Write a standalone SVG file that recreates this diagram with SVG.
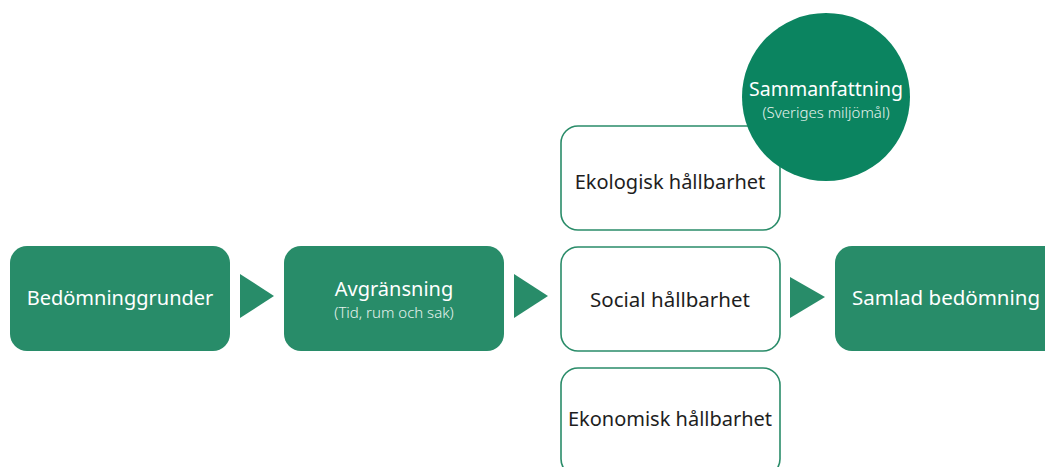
<svg xmlns="http://www.w3.org/2000/svg" width="1045" height="467" viewBox="0 0 1045 467">
<style>
.fill{fill:#288c69;}
.outl{fill:#ffffff;stroke:#2a8c69;stroke-width:1.6;}
.wt{font-family:"Noto Sans","Open Sans",sans-serif;fill:#ffffff;text-anchor:middle;}
.sub{font-family:"Noto Sans","Open Sans",sans-serif;fill:#e6f2ed;text-anchor:middle;font-weight:300;}
.bt{font-family:"Noto Sans","Open Sans",sans-serif;fill:#1e1e1e;text-anchor:middle;}
.arr{fill:#288c69;}
</style>
<rect width="1045" height="467" fill="#ffffff"/>
<g id="connectors">
<polygon class="arr" points="240,274 274,296 240,318"/>
<polygon class="arr" points="514,274 548,296 514,318"/>
<polygon class="arr" points="790,277 825,297 790,318"/>
</g>
<g id="n1">
<rect class="fill" x="10" y="246" width="220" height="105" rx="17"/>
<text class="wt" x="120" y="305" font-size="20">Bedömninggrunder</text>
</g>
<g id="n2">
<rect class="fill" x="284" y="246" width="220" height="105" rx="17"/>
<text class="wt" x="394" y="296" font-size="20">Avgränsning</text>
<text class="sub" x="394" y="318" font-size="15">(Tid, rum och sak)</text>
</g>
<g id="n3">
<rect class="outl" x="561" y="126" width="219" height="104" rx="17"/>
<text class="bt" x="670" y="189" font-size="20">Ekologisk hållbarhet</text>
</g>
<g id="n4">
<rect class="outl" x="561" y="247" width="219" height="104" rx="17"/>
<text class="bt" x="670" y="307" font-size="20.5">Social hållbarhet</text>
</g>
<g id="n5">
<rect class="outl" x="561" y="368" width="219" height="108" rx="17"/>
<text class="bt" x="670" y="426" font-size="20">Ekonomisk hållbarhet</text>
</g>
<g id="n6">
<circle cx="826" cy="97" r="84" fill="#0b8460"/>
<text class="wt" x="826" y="96" font-size="19.5">Sammanfattning</text>
<text class="sub" x="826" y="118" font-size="15">(Sveriges miljömål)</text>
</g>
<g id="n7">
<rect class="fill" x="835" y="246" width="230" height="105" rx="17"/>
<text class="wt" x="946" y="305" font-size="20.5">Samlad bedömning</text>
</g>
</svg>
